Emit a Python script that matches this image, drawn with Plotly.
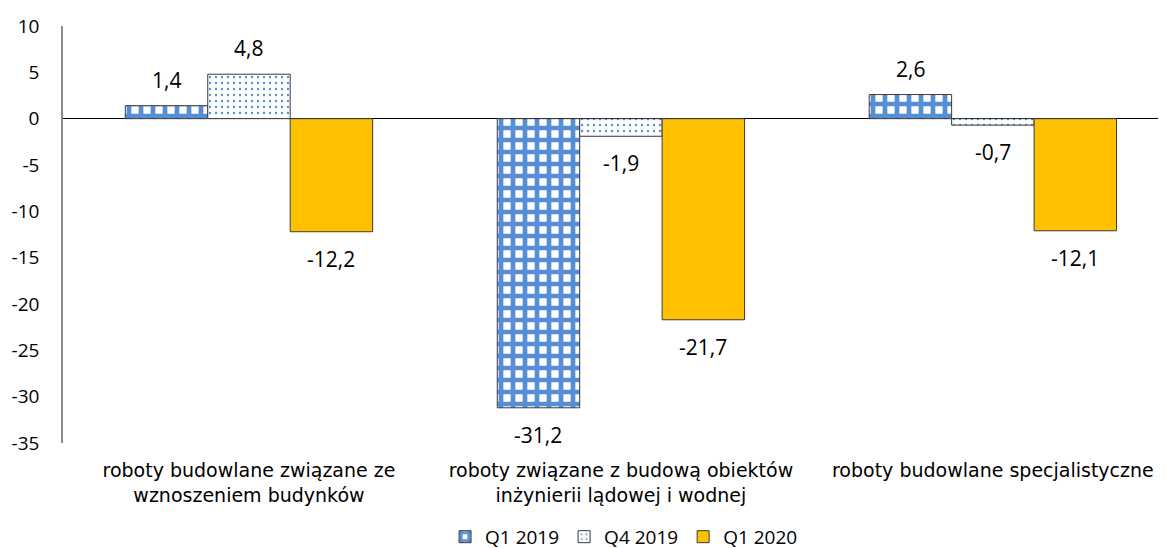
import plotly.graph_objects as go

categories = [
    "roboty budowlane związane ze<br>wznoszeniem budynków",
    "roboty związane z budową obiektów<br>inżynierii lądowej i wodnej",
    "roboty budowlane specjalistyczne",
]
series_names = ["Q1 2019", "Q4 2019", "Q1 2020"]
q1_2019 = [1.4, -31.2, 2.6]
q4_2019 = [4.8, -1.9, -0.7]
q1_2020 = [-12.2, -21.7, -12.1]
y_ticks = [10, 5, 0, -5, -10, -15, -20, -25, -30, -35]

BLUE = "#558ED5"
GOLD = "#FFC000"
EDGE = "#3a3a3a"
NUM_FONT = "Open Sans"
CAT_FONT = "DejaVu Sans"

bargap = 0.335
x_idx = list(range(len(categories)))
all_series = [q1_2019, q4_2019, q1_2020]

patterns = [
    dict(shape="+", fgcolor=BLUE, bgcolor="white", size=12, solidity=0.63, fillmode="replace"),
    dict(shape=".", fgcolor=BLUE, bgcolor="white", size=6, solidity=0.12, fillmode="replace"),
    None,
]
colors = ["white", "white", GOLD]

fig = go.Figure()
for name, vals, pat, col in zip(series_names, all_series, patterns, colors):
    marker = dict(color=col, line=dict(color=EDGE, width=1))
    if pat is not None:
        marker["pattern"] = pat
    fig.add_trace(go.Bar(name=name, x=x_idx, y=vals, marker=marker))

def fmt(v):
    return f"{v:.1f}".replace(".", ",")

w = (1 - bargap) / len(all_series)
for k, vals in enumerate(all_series):
    off = (k - (len(all_series) - 1) / 2) * w
    for i, v in enumerate(vals):
        fig.add_annotation(
            x=i + off, y=v, text=fmt(v), showarrow=False,
            yanchor="bottom" if v >= 0 else "top",
            yshift=10 if v >= 0 else -11,
            font=dict(family=NUM_FONT, size=21, color="#000000"),
        )

fig.update_layout(
    width=1166, height=548,
    margin=dict(l=55, r=0, t=18, b=113),
    paper_bgcolor="white", plot_bgcolor="white",
    barmode="group", bargap=bargap, bargroupgap=0,
    showlegend=True,
    legend=dict(
        orientation="h", x=0.505, xanchor="center", y=-0.225, yanchor="middle",
        font=dict(family=NUM_FONT, size=19, color="#000000"),
        itemwidth=30, traceorder="normal",
    ),
    xaxis=dict(
        range=[-0.5, 2.487], tickvals=x_idx, ticktext=categories,
        showline=False, showgrid=False, zeroline=False, ticks="",
        tickfont=dict(family=CAT_FONT, size=19, color="#000000"),
        ticklabelstandoff=14, automargin=False,
    ),
    yaxis=dict(
        range=[-35, 10], tickvals=y_ticks, ticktext=[str(t) for t in y_ticks],
        showgrid=False, showline=True, linecolor="#8c8c8c", linewidth=1.5,
        zeroline=True, zerolinecolor="#000000", zerolinewidth=1,
        ticks="", tickfont=dict(family=NUM_FONT, size=19, color="#000000"),
        ticklabelstandoff=18, automargin=False,
    ),
)

fig.write_html("out.html")
